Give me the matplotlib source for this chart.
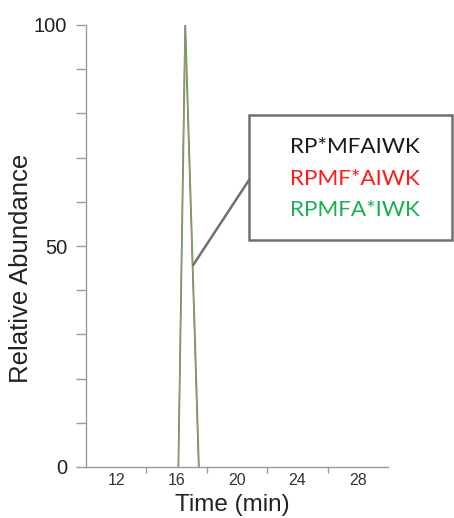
import matplotlib.pyplot as plt
from matplotlib.patches import Rectangle

# chromatogram traces (time in min, relative abundance)
time_black = [16.10, 16.55, 17.45]
abund_black = [0, 100, 0]
time_red = [16.12, 16.57, 17.47]
abund_red = [0, 100, 0]
time_green = [16.14, 16.60, 17.50]
abund_green = [0, 100, 0]

peptides = ['RP*MFAIWK', 'RPMF*AIWK', 'RPMFA*IWK']
pep_colors = ['#1a1a1a', '#ff1a1a', '#1aaf50']

x_labels = [12, 16, 20, 24, 28]
x_minor = [14, 18, 22, 26]
y_labels = [0, 50, 100]
y_minor = [10, 20, 30, 40, 60, 70, 80, 90]

fig = plt.figure(figsize=(4.54, 5.18), dpi=100)
ax = fig.add_axes([86 / 454, 1 - 467 / 518, 302 / 454, 442 / 518])

ax.plot(time_black, abund_black, color='#666666', lw=0.8)
ax.plot(time_red, abund_red, color='#e88080', lw=0.8)
ax.plot(time_green, abund_green, color='#60a860', lw=0.8)

ax.set_xlim(10, 30)
ax.set_ylim(0, 100)

for s in ['top', 'right']:
    ax.spines[s].set_visible(False)
for s in ['left', 'bottom']:
    ax.spines[s].set_color('#999999')
    ax.spines[s].set_linewidth(1.0)

ax.set_xticks(x_labels)
ax.set_xticks(x_minor, minor=True)
ax.set_yticks(y_labels)
ax.set_yticks(y_minor, minor=True)
ax.tick_params(axis='x', which='major', length=0, pad=4, labelsize=11.5, labelcolor='#333333')
ax.tick_params(axis='x', which='minor', length=4, color='#999999', width=1)
ax.tick_params(axis='y', which='both', length=7.5, color='#999999', width=1)
ax.tick_params(axis='y', which='major', pad=6, labelsize=14.5, labelcolor='#222222')
for lab in ax.get_xticklabels() + ax.get_yticklabels():
    lab.set_family('Liberation Sans')

ax.set_xlabel('Time (min)', fontsize=17.5, family='Liberation Sans', color='#222222', labelpad=0)
ax.set_ylabel('Relative Abundance', fontsize=18.5, family='Liberation Sans', color='#222222', labelpad=2)
ax.xaxis.set_label_coords(0.485, -0.061)
ax.yaxis.set_label_coords(-0.175, 0.45)

# legend box with connector line
W, H = 454, 518
box = Rectangle((249 / W, 1 - 240 / H), 203 / W, 125 / H, transform=fig.transFigure,
                facecolor='white', edgecolor='#707070', lw=1.8, zorder=5)
fig.add_artist(box)
ax.annotate('', xy=(17.1, 45.7), xycoords='data',
            xytext=(249 / W, 1 - 180 / H), textcoords='figure fraction',
            arrowprops=dict(arrowstyle='-', color='#707070', lw=1.8, shrinkA=0, shrinkB=0))

y_pos = [147, 179, 210]
for name, c, yp in zip(peptides, pep_colors, y_pos):
    fig.text(290 / W, 1 - yp / H, name, color=c, fontsize=16.2, family='Lato',
             va='center', ha='left', zorder=6)

fig.savefig('out.png', dpi=100)
